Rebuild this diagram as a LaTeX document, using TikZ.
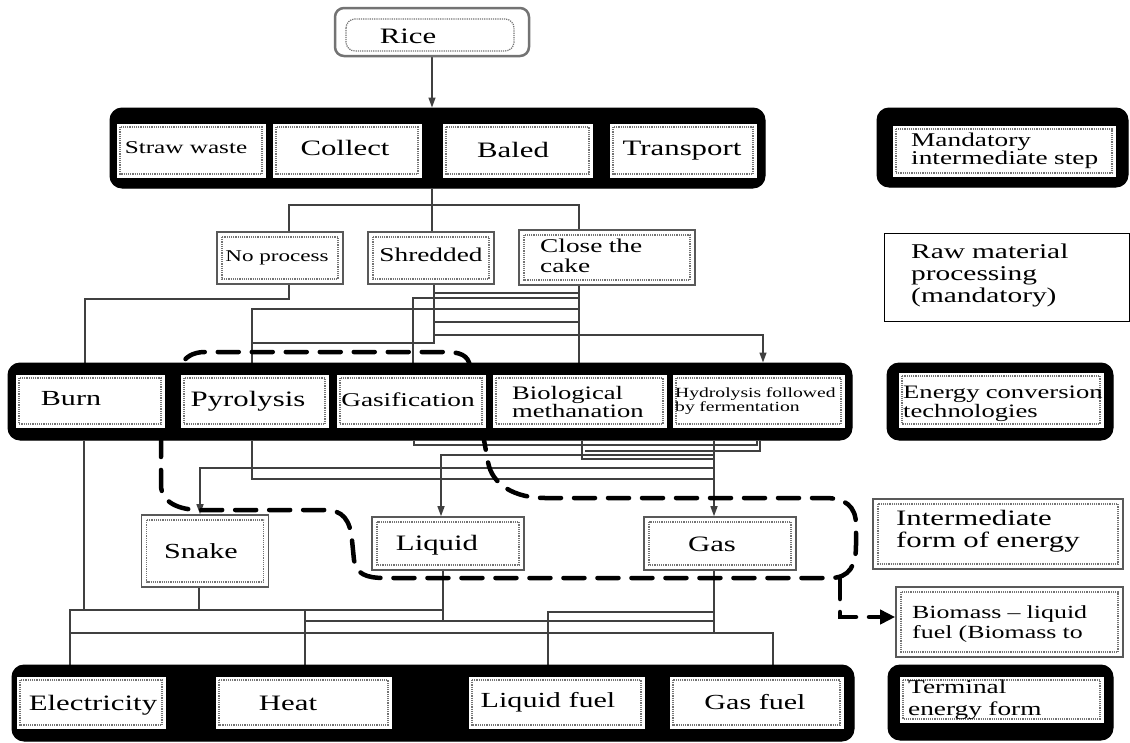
\documentclass[tikz,border=0pt]{standalone}
\usepackage{fontspec}
\setmainfont[FakeStretch=1.4]{Liberation Serif}
\usetikzlibrary{arrows.meta,backgrounds}
\tikzset{
  conn/.style={draw=black!75, line width=1.4pt},
  arr/.style={conn, -{Triangle[length=10pt,width=7pt]}},
  dsh/.style={draw=black, line width=4.5pt, line cap=round, dash pattern=on 21pt off 13pt},
  bar/.style={draw=black, fill=black, line width=1pt, rounded corners=12pt, inner sep=0pt},
  inbox/.style={fill=white, draw=white, inner sep=0pt,
    path picture={\draw[black!55, densely dotted, line width=1.2pt]
      ([shift={(3pt,-3pt)}]path picture bounding box.north west) rectangle
      ([shift={(-3pt,3pt)}]path picture bounding box.south east);}},
  pbox/.style={fill=white, draw=black!65, line width=1.6pt, inner sep=0pt,
    path picture={\draw[black!55, densely dotted, line width=1.2pt]
      ([shift={(5pt,-5pt)}]path picture bounding box.north west) rectangle
      ([shift={(-5pt,5pt)}]path picture bounding box.south east);}},
  rbox/.style={fill=white, draw=black!55, line width=2.5pt, rounded corners=9pt, inner sep=0pt,
    path picture={\draw[black!55, densely dotted, line width=1.2pt]
      ([shift={(11pt,-11pt)}]path picture bounding box.north west) rectangle
      ([shift={(-15pt,5pt)}]path picture bounding box.south east);}},
  fs/.style 2 args={font=\fontsize{#1}{#2}\selectfont, inner sep=0pt, text=black},
  ml/.style={anchor=base west, text width=260pt, align=left}
}
\begin{document}
\begin{tikzpicture}[x=1pt,y=-1pt]
\useasboundingbox (0,0) rectangle (1130,742);

% ---------- boxes ----------
\node[rbox, minimum width=194pt, minimum height=48pt] (rice) at (432,32) {};

\node[bar, minimum width=655pt, minimum height=80pt] (topbar) at (437.5,148) {};
\node[inbox, minimum width=148pt, minimum height=53pt] (straw) at (191,150.5) {};
\node[inbox, minimum width=148pt, minimum height=53pt] (collect) at (347,150.5) {};
\node[inbox, minimum width=149pt, minimum height=53pt] (baled) at (517.5,150.5) {};
\node[inbox, minimum width=146pt, minimum height=53pt] (transport) at (683,150.5) {};

\node[bar, minimum width=251pt, minimum height=79pt] (mandbar) at (1002.5,147.5) {};
\node[inbox, minimum width=222pt, minimum height=50pt] (mand) at (1004,151) {};

\node[pbox, minimum width=126pt, minimum height=52pt] (np) at (280,258) {};
\node[pbox, minimum width=126pt, minimum height=52pt] (sh) at (431,258) {};
\node[pbox, minimum width=176pt, minimum height=55pt] (ct) at (607,257.5) {};
\node[draw=black, line width=1pt, fill=white, inner sep=0pt, minimum width=245pt, minimum height=88pt] (raw) at (1006.5,277) {};

\node[bar, minimum width=844pt, minimum height=77pt] (convbar) at (430,401.5) {};
\node[inbox, minimum width=148pt, minimum height=52pt] (burn) at (90,401) {};
\node[inbox, minimum width=147pt, minimum height=52pt] (pyro) at (254.5,401) {};
\node[inbox, minimum width=148pt, minimum height=52pt] (gasi) at (411,401) {};
\node[inbox, minimum width=173pt, minimum height=52pt] (bio) at (579.5,401) {};
\node[inbox, minimum width=171pt, minimum height=52pt] (hyd) at (758.5,401) {};

\node[bar, minimum width=226pt, minimum height=77pt] (ecbar) at (1000,401.5) {};
\node[inbox, minimum width=204pt, minimum height=54pt] (ec) at (1001,400) {};

\node[pbox, minimum width=127pt, minimum height=72pt] (snake) at (205,551) {};
\node[pbox, minimum width=152pt, minimum height=53pt] (liquid) at (448,543.5) {};
\node[pbox, minimum width=152pt, minimum height=53pt] (gas) at (720,543.5) {};
\node[pbox, minimum width=250pt, minimum height=70pt] (inter) at (998,534) {};
\node[pbox, minimum width=227pt, minimum height=70pt] (biomass) at (1009.5,622) {};

\node[bar, minimum width=842pt, minimum height=76pt] (botbar) at (433,703) {};
\node[inbox, minimum width=148pt, minimum height=51pt] (elec) at (91,702.5) {};
\node[inbox, minimum width=175pt, minimum height=51pt] (heat) at (303.5,702.5) {};
\node[inbox, minimum width=175pt, minimum height=51pt] (lfuel) at (556.5,702.5) {};
\node[inbox, minimum width=173pt, minimum height=51pt] (gfuel) at (756.5,702.5) {};

\node[bar, minimum width=225pt, minimum height=75pt] (termbar) at (1000.5,702.5) {};
\node[inbox, minimum width=203pt, minimum height=45pt] (term) at (1001.5,699.5) {};

% ---------- texts ----------
\node[fs={22}{23}, anchor=base] (t-rice) at (408,43) {Rice};
\node[fs={18}{19}, anchor=base] (t-straw) at (186,153) {Straw waste};
\node[fs={22}{23}, anchor=base] (t-collect) at (345,155) {Collect};
\node[fs={22}{23}, anchor=base] (t-baled) at (513,157) {Baled};
\node[fs={22}{23}, anchor=base] (t-transport) at (682,155) {Transport};
\node[fs={19.5}{18.5}, ml] (t-mand) at (911,146) {Mandatory\\intermediate step};

\node[fs={16.5}{17}, anchor=base] (t-np) at (277,261) {No process};
\node[fs={19.5}{20}, anchor=base] (t-sh) at (431,261) {Shredded};
\node[fs={19.5}{20.5}, ml] (t-ct) at (540,252) {Close the\\cake};
\node[fs={21}{22}, ml] (t-raw) at (911,258) {Raw material\\processing\\(mandatory)};

\node[fs={21.5}{22}, anchor=base] (t-burn) at (71,405) {Burn};
\node[fs={22}{23}, anchor=base] (t-pyro) at (248,406) {Pyrolysis};
\node[fs={19.5}{20}, anchor=base] (t-gasi) at (408,406) {Gasification};
\node[fs={19}{17}, ml] (t-bio) at (512,399) {Biological\\methanation};
\node[fs={14}{14}, ml] (t-hyd) at (675,397) {Hydrolysis followed\\by fermentation};
\node[fs={19}{19}, ml] (t-ec) at (903,398) {Energy conversion\\technologies};

\node[fs={21.5}{22}, anchor=base] (t-snake) at (201,558) {Snake};
\node[fs={22}{23}, anchor=base] (t-liquid) at (437,550) {Liquid};
\node[fs={22}{23}, anchor=base] (t-gas) at (712,551) {Gas};
\node[fs={22}{22}, ml] (t-inter) at (896,525) {Intermediate\\form of energy};
\node[fs={18.5}{20}, ml] (t-biomass) at (912,618) {Biomass – liquid\\fuel (Biomass to};

\node[fs={22}{23}, anchor=base] (t-elec) at (93,710) {Electricity};
\node[fs={22}{23}, anchor=base] (t-heat) at (288,710) {Heat};
\node[fs={21.5}{22}, anchor=base] (t-lfuel) at (548,707) {Liquid fuel};
\node[fs={21.5}{22}, anchor=base] (t-gfuel) at (755,709) {Gas fuel};
\node[fs={19.5}{22}, ml] (t-term) at (908,693) {Terminal\\energy form};

% ---------- connectors ----------
\begin{scope}[on background layer]
\draw[arr] (rice.south) -- (rice.south |- topbar.north);
\coordinate (split) at (432,205);
\draw[conn] (topbar.south -| split) -- (split);
\draw[conn] (np.north -| 289,0) |- (split) -| (ct.north -| 579,0);
\draw[conn] (split) -- (sh.north -| split);

\draw[conn] (np.south -| 289,0) |- (85,299) -- (convbar.north -| 85,0);
\draw[conn] (sh.south -| 434,0) -- (434,343) -- (252,343);
\draw[conn] (579,309) -- (252,309) -- (convbar.north -| 252,0);
\draw[conn] (ct.south -| 579,0) -- (convbar.north -| 579,0);
\draw[conn] (579,298) -- (413,298) -- (convbar.north -| 413,0);
\draw[conn] (434,293) -- (579,293);
\draw[conn] (434,322) -- (579,322);
\draw[arr] (434,335) -| (convbar.north -| 763,0);

\draw[conn] (convbar.south -| 84,0) -- (84,610);
\draw[conn] (convbar.south -| 252,0) |- (714,479);
\draw[arr] (714,468) -| (snake.north -| 200,0);
\draw[conn] (convbar.south -| 414,0) |- (757,445) -- (convbar.south -| 757,0);
\draw[arr] (714,455) -| (liquid.north -| 441,0);
\draw[conn] (convbar.south -| 582,0) |- (714,459);
\draw[conn] (convbar.south -| 760,0) |- (585,451);
\draw[arr] (convbar.south -| 714,0) -- (gas.north -| 714,0);

\draw[conn] (snake.south -| 199,0) -- (199,610);
\draw[conn] (liquid.south -| 443,0) -- (443,621);
\draw[conn] (gas.south -| 714,0) -- (714,633);
\draw[conn] (botbar.north -| 70,0) -- (70,610) -- (443,610);
\draw[conn] (305,610) -- (botbar.north -| 305,0);
\draw[conn] (305,621) -- (714,621);
\draw[conn] (714,612) -- (548,612) -- (botbar.north -| 548,0);
\draw[conn] (70,633) -- (773,633) -- (botbar.north -| 773,0);

% dashed loop
\draw[dsh] (470,366) .. controls (468,355) and (460,352) .. (445,352) -- (205,352)
  .. controls (192,352) and (184,358) .. (181,366) -- (161,440) -- (161,485)
  .. controls (161,503) and (180,510) .. (200,510) -- (325,510)
  .. controls (343,510) and (350,520) .. (352,540) -- (354,560)
  .. controls (356,574) and (366,578) .. (385,578) -- (830,578)
  .. controls (850,578) and (856,565) .. (856,545) -- (856,525)
  .. controls (856,506) and (845,498) .. (825,498) -- (545,498)
  .. controls (515,498) and (492,485) .. (488,462) -- (484,440) -- cycle;
\draw[dsh, -{Triangle[length=15pt,width=14pt]}] (840,578) -- (840,617) -- (biomass.west |- 840,617);
\end{scope}
\end{tikzpicture}
\end{document}
